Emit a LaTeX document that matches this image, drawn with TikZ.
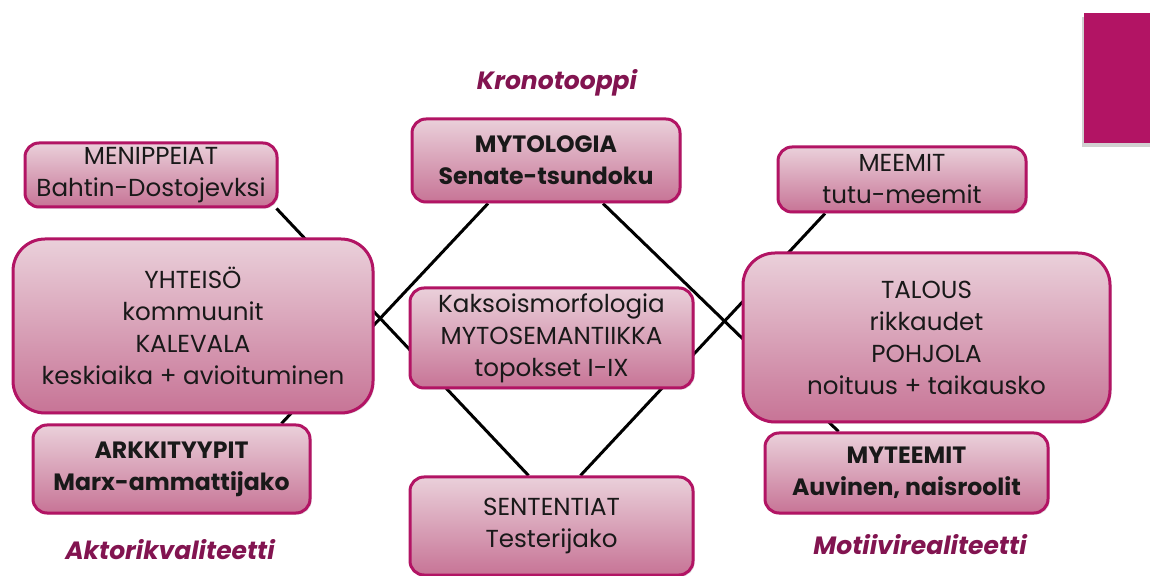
\documentclass[tikz,border=0pt]{standalone}
\usepackage{fontspec}
\setmainfont{Poppins}
\usetikzlibrary{backgrounds,shadows}
\definecolor{boxtop}{RGB}{234,208,218}
\definecolor{boxbot}{RGB}{199,116,150}
\definecolor{boxedge}{RGB}{178,20,100}
\definecolor{accent}{RGB}{178,20,100}
\definecolor{labelcol}{RGB}{130,20,80}
\tikzset{
  pbox/.style={draw=boxedge, line width=1.5pt, rounded corners=7pt,
    top color=boxtop, bottom color=boxbot, align=center, inner sep=0pt,
    font=\fontsize{12.3}{16}\selectfont, text=black!90,
    drop shadow={shadow xshift=0.8pt, shadow yshift=-0.8pt, opacity=0.25}},
  bigbox/.style={pbox, rounded corners=16pt},
  boldbox/.style={pbox, font=\fontsize{11.8}{16}\selectfont\bfseries},
  qlabel/.style={font=\fontsize{12.5}{16}\selectfont\bfseries\itshape, text=labelcol},
  link/.style={line width=1.5pt, black}
}
\begin{document}
\begin{tikzpicture}[x=0.5pt,y=-0.5pt]
\useasboundingbox (0,0) rectangle (1150,576);
% accent rectangle
\fill[gray!60, opacity=0.6] (1082,17) rectangle (1150,147);
\fill[accent] (1084,13) rectangle (1150,143);
% boxes
\node[pbox, minimum width=126pt, minimum height=32pt] (men) at (151,175) {MENIPPEIAT\\Bahtin-Dostojevksi};
\node[bigbox, minimum width=180pt, minimum height=87pt] (yht) at (193,326) {YHTEISÖ\\kommuunit\\KALEVALA\\keskiaika + avioituminen};
\node[boldbox, minimum width=138.5pt, minimum height=44pt] (ark) at (171.5,469) {ARKKITYYPIT\\Marx-ammattijako};
\node[boldbox, minimum width=134pt, minimum height=41.5pt] (myt) at (546,160.5) {MYTOLOGIA\\Senate-tsundoku};
\node[pbox, minimum width=141.5pt, minimum height=50pt] (kak) at (551.5,338) {Kaksoismorfologia\\MYTOSEMANTIIKKA\\topokset I-IX};
\node[pbox, minimum width=141.5pt, minimum height=49pt] (sen) at (551.5,526) {SENTENTIAT\\Testerijako};
\node[pbox, minimum width=124pt, minimum height=32.5pt] (mee) at (902,179.5) {MEEMIT\\tutu-meemit};
\node[bigbox, minimum width=183.5pt, minimum height=84.5pt] (tal) at (926.5,337.5) {TALOUS\\rikkaudet\\POHJOLA\\noituus + taikausko};
\node[boldbox, minimum width=141.5pt, minimum height=40pt] (myte) at (906.5,473) {MYTEEMIT\\Auvinen, naisroolit};
% labels
\node[qlabel] (kro) at (557,83) {Kronotooppi};
\node[qlabel] (akt) at (170,550) {Aktorikvaliteetti};
\node[qlabel] (mot) at (920,545) {Motiivirealiteetti};
% connectors
\begin{pgfonlayer}{background}
\draw[link] ([xshift=-29pt]myt.south) -- ([xshift=-15pt]ark.north east);
\draw[link] ([xshift=-1pt]men.south east) -- ([xshift=-11.5pt]sen.north);
\draw[link] ([xshift=28.5pt]myt.south) -- ([xshift=-34pt]myte.north);
\draw[link] ([xshift=-38.5pt]mee.south) -- ([xshift=14.5pt]sen.north);
\end{pgfonlayer}
\end{tikzpicture}
\end{document}
